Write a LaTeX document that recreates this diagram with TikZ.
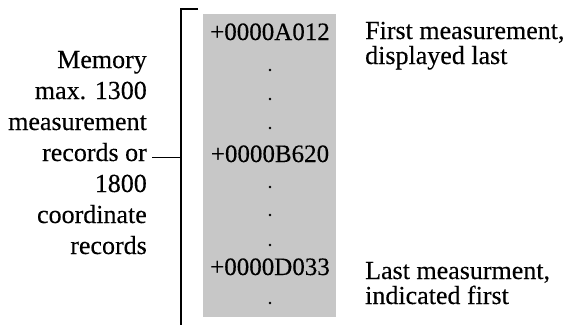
\documentclass[tikz,border=0pt]{standalone}
\usepackage{fontspec}
\setmainfont{Liberation Serif}[FakeBold=0.3]
\begin{document}
\begin{tikzpicture}[x=1pt,y=-1pt,
  lbl/.style={inner sep=0pt,font=\fontsize{26}{26}\selectfont},
  leftlbl/.style={lbl,anchor=base east},
  rightlbl/.style={lbl,anchor=base west},
  memlbl/.style={lbl,anchor=base,font=\fontsize{25}{26}\selectfont},
  dotmark/.style={fill=black,circle,inner sep=0pt,minimum size=2.6pt},
  bracket/.style={line width=1.2pt},
  conn/.style={line width=0.8pt}]
\useasboundingbox (0,0) rectangle (571,325);
% memory area
\fill[black!22] (203,14) rectangle (336,317);
% bracket
\coordinate (bt) at (198,9);
\coordinate (bc) at (181,9);
\coordinate (bb) at (181,325);
\coordinate (bm) at (181,157);
\draw[bracket] (bt) -- (bc) -- (bb);
% left text
\node[leftlbl] (l1) at (147,68) {Memory};
\node[leftlbl] (l2) at (147,99) {max. 1300};
\node[leftlbl] (l3) at (147,130) {measurement};
\node[leftlbl] (l4) at (147,161) {records or};
\node[leftlbl] (l5) at (147,192) {1800};
\node[leftlbl] (l6) at (147,223) {coordinate};
\node[leftlbl] (l7) at (147,254) {records};
\draw[conn] ([xshift=5pt]l4.east |- bm) -- (bm);
% memory entries
\node[memlbl] (m1) at (270,40) {+0000A012};
\node[memlbl] (m2) at (270,162) {+0000B620};
\node[memlbl] (m3) at (270,275) {+0000D033};
\node[dotmark] (d1) at (270,70) {};
\node[dotmark] (d2) at (270,99) {};
\node[dotmark] (d3) at (270,128) {};
\node[dotmark] (d4) at (270,187) {};
\node[dotmark] (d5) at (270,215) {};
\node[dotmark] (d6) at (270,245) {};
\node[dotmark] (d7) at (270,303) {};
% right text
\node[rightlbl] (r1) at (365,39) {First measurement,};
\node[rightlbl] (r2) at (365,64) {displayed last};
\node[rightlbl] (r3) at (365,279) {Last measurment,};
\node[rightlbl] (r4) at (365,304) {indicated first};
\end{tikzpicture}
\end{document}
